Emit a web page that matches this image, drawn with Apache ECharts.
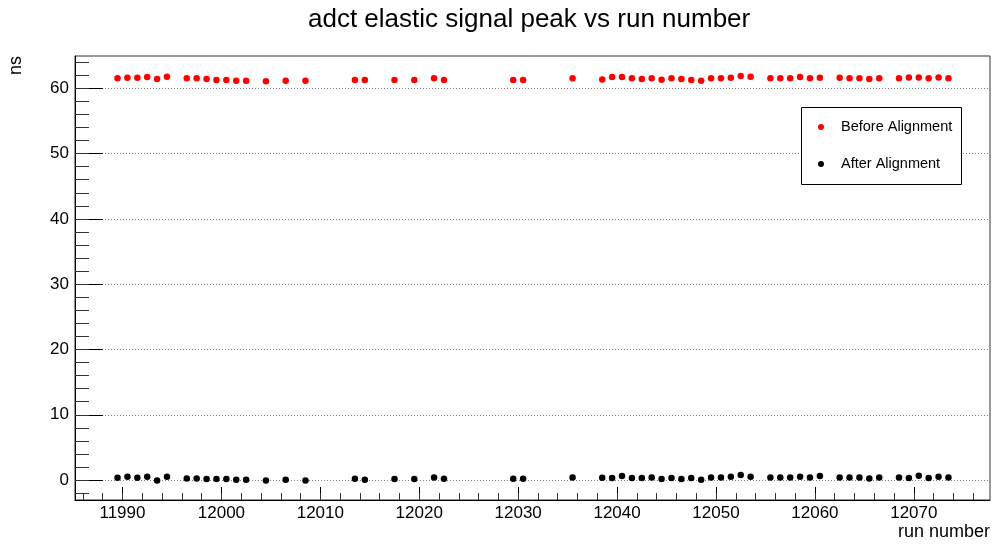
<!DOCTYPE html>
<html>
<head>
<meta charset="utf-8">
<script src="https://cdn.jsdelivr.net/npm/echarts@6/dist/echarts.min.js"></script>
<style>
html,body{margin:0;padding:0;background:#fff;}
#chart{width:993px;height:544px;}
</style>
</head>
<body>
<div id="chart"></div>
<script>
// Run-number bin centres (x)
const binCenters = [
  11989.5, 11990.5, 11991.5, 11992.5, 11993.5, 11994.5, 11996.5, 11997.5, 11998.5, 11999.5,
  12000.5, 12001.5, 12002.5, 12004.5, 12006.5, 12008.5, 12013.5, 12014.5, 12017.5, 12019.5,
  12021.5, 12022.5, 12029.5, 12030.5, 12035.5, 12038.5, 12039.5, 12040.5, 12041.5, 12042.5,
  12043.5, 12044.5, 12045.5, 12046.5, 12047.5, 12048.5, 12049.5, 12050.5, 12051.5, 12052.5,
  12053.5, 12055.5, 12056.5, 12057.5, 12058.5, 12059.5, 12060.5, 12062.5, 12063.5, 12064.5,
  12065.5, 12066.5, 12068.5, 12069.5, 12070.5, 12071.5, 12072.5, 12073.5
];
// Before alignment peak (ns)
const beforeAlignment = [
  61.53, 61.63, 61.63, 61.73, 61.42, 61.78, 61.53, 61.53, 61.42, 61.27,
  61.27, 61.17, 61.17, 61.07, 61.17, 61.17, 61.27, 61.27, 61.27, 61.27,
  61.53, 61.27, 61.27, 61.27, 61.53, 61.37, 61.73, 61.73, 61.53, 61.42,
  61.53, 61.30, 61.53, 61.42, 61.27, 61.17, 61.53, 61.53, 61.63, 61.88,
  61.78, 61.53, 61.53, 61.53, 61.73, 61.53, 61.63, 61.63, 61.53, 61.53,
  61.42, 61.53, 61.53, 61.65, 61.65, 61.53, 61.65, 61.53
];
// After alignment peak (ns)
const afterAlignment = [
  0.36, 0.51, 0.36, 0.51, -0.05, 0.51, 0.26, 0.26, 0.15, 0.15,
  0.15, 0.05, 0.05, -0.05, 0.05, -0.05, 0.20, 0.05, 0.15, 0.15,
  0.41, 0.20, 0.20, 0.20, 0.41, 0.36, 0.31, 0.61, 0.31, 0.31,
  0.41, 0.18, 0.31, 0.15, 0.31, 0.05, 0.41, 0.41, 0.51, 0.77,
  0.51, 0.41, 0.41, 0.41, 0.51, 0.41, 0.61, 0.41, 0.41, 0.41,
  0.26, 0.41, 0.41, 0.31, 0.66, 0.31, 0.51, 0.41
];
// Tick labels / tick positions
const xMajorTicks = [11990, 12000, 12010, 12020, 12030, 12040, 12050, 12060, 12070];
const xMinorTicks = [11986, 11988, 11990, 11992, 11994, 11996, 11998, 12000, 12002, 12004, 12006, 12008, 12010,
  12012, 12014, 12016, 12018, 12020, 12022, 12024, 12026, 12028, 12030, 12032, 12034, 12036, 12038, 12040,
  12042, 12044, 12046, 12048, 12050, 12052, 12054, 12056, 12058, 12060, 12062, 12064, 12066, 12068, 12070,
  12072, 12074, 12076];
const yMajorTicks = [0, 10, 20, 30, 40, 50, 60];
const yMinorTicks = [-2, 0, 2, 4, 6, 8, 10, 12, 14, 16, 18, 20, 22, 24, 26, 28, 30, 32, 34, 36, 38, 40, 42, 44,
  46, 48, 50, 52, 54, 56, 58, 60, 62, 64];

const X_MIN = 11985.2, X_MAX = 12077.7, Y_MIN = -3.05, Y_MAX = 64.95;
const FONT = 'Liberation Sans, Arial, Helvetica, sans-serif';

const pairs = (xs, ys) => xs.map((x, i) => [x, ys[i]]);

const chart = echarts.init(document.getElementById('chart'), null, {renderer: 'canvas'});

const hiddenLabel = {show: false};
const option = {
  animation: false,
  backgroundColor: '#fff',
  textStyle: {fontFamily: FONT},
  title: {
    text: 'adct elastic signal peak vs run number',
    left: 308, top: 7, padding: 0,
    textStyle: {fontSize: 26, fontWeight: 'normal', color: '#000', fontFamily: FONT}
  },
  grid: {
    left: 75, right: 3, top: 56, bottom: 44,
    show: true, borderColor: '#333', borderWidth: 1, backgroundColor: '#fff',
    containLabel: false, outerBoundsMode: 'none'
  },
  legend: {
    orient: 'vertical', left: 818, top: 119, z: 5,
    itemWidth: 30, itemHeight: 6, itemGap: 21, icon: 'circle', padding: 0,
    textStyle: {fontSize: 14.5, color: '#000', lineHeight: 16, fontFamily: FONT},
    data: ['Before Alignment', 'After Alignment']
  },
  graphic: [{
    type: 'rect', z: 3, silent: true,
    shape: {x: 801.5, y: 107.5, width: 160, height: 77},
    style: {fill: '#fff', stroke: '#000', lineWidth: 1}
  }],
  xAxis: [
    {
      type: 'value', min: X_MIN, max: X_MAX, position: 'bottom',
      axisLine: {show: true, onZero: false, lineStyle: {color: '#000', width: 1}},
      axisTick: {show: true, inside: true, length: 13, customValues: xMajorTicks, lineStyle: {color: '#000'}},
      axisLabel: {show: true, customValues: xMajorTicks, formatter: v => String(v), fontSize: 17, color: '#000', margin: 5, fontFamily: FONT},
      splitLine: {show: false}
    },
    {
      type: 'value', min: X_MIN, max: X_MAX, position: 'bottom',
      axisLine: {show: false, onZero: false},
      axisTick: {show: true, inside: true, length: 7, customValues: xMinorTicks, lineStyle: {color: '#333'}},
      axisLabel: hiddenLabel, splitLine: {show: false}
    },
    {
      type: 'value', min: X_MIN, max: X_MAX, position: 'bottom', offset: 32,
      axisLine: {show: false, onZero: false}, axisTick: {show: false}, axisLabel: hiddenLabel, splitLine: {show: false},
      name: 'run number', nameLocation: 'end', nameGap: 0,
      nameTextStyle: {fontSize: 18, color: '#000', align: 'right', verticalAlign: 'middle', fontFamily: FONT}
    }
  ],
  yAxis: [
    {
      type: 'value', min: Y_MIN, max: Y_MAX, position: 'left',
      axisLine: {show: true, onZero: false, lineStyle: {color: '#000', width: 1}},
      axisTick: {show: true, inside: true, length: 28, customValues: yMajorTicks, lineStyle: {color: '#000'}},
      axisLabel: {show: true, customValues: yMajorTicks, formatter: v => String(v), fontSize: 17, color: '#000', margin: 6, fontFamily: FONT},
      splitLine: {show: true, lineStyle: {color: '#808080', width: 1, type: [1, 2]}}
    },
    {
      type: 'value', min: Y_MIN, max: Y_MAX, position: 'left',
      axisLine: {show: false, onZero: false},
      axisTick: {show: true, inside: true, length: 14, customValues: yMinorTicks, lineStyle: {color: '#333'}},
      axisLabel: hiddenLabel, splitLine: {show: false}
    },
    {
      type: 'value', min: Y_MIN, max: Y_MAX, position: 'left', offset: 59,
      axisLine: {show: false, onZero: false}, axisTick: {show: false}, axisLabel: hiddenLabel, splitLine: {show: false},
      name: 'ns', nameLocation: 'end', nameGap: 0, nameRotate: 90,
      nameTextStyle: {fontSize: 18, color: '#000', align: 'right', verticalAlign: 'middle', fontFamily: FONT}
    }
  ],
  series: [
    {
      name: 'Before Alignment', type: 'scatter', xAxisIndex: 0, yAxisIndex: 0,
      symbol: 'circle', symbolSize: 6.5,
      itemStyle: {color: '#ff0000', opacity: 1},
      data: pairs(binCenters, beforeAlignment)
    },
    {
      name: 'After Alignment', type: 'scatter', xAxisIndex: 0, yAxisIndex: 0,
      symbol: 'circle', symbolSize: 6.5,
      itemStyle: {color: '#000000', opacity: 1},
      data: pairs(binCenters, afterAlignment)
    }
  ]
};
chart.setOption(option);
</script>
</body>
</html>
